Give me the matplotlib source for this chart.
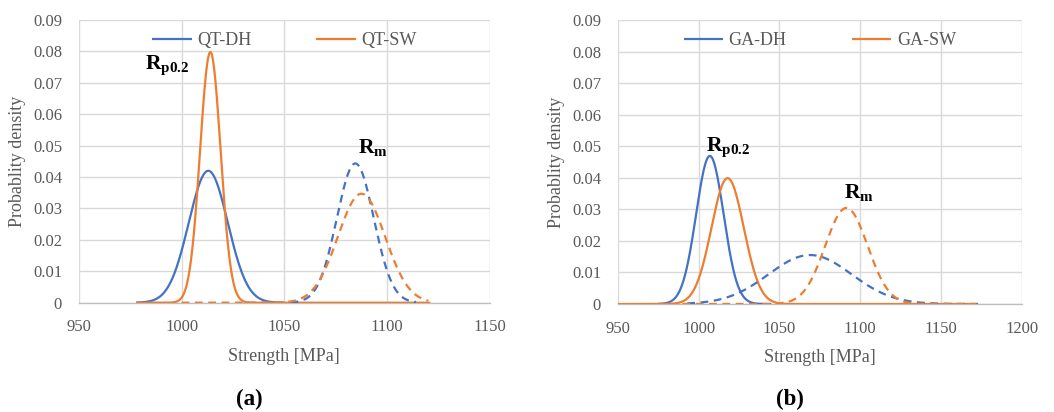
import numpy as np
import matplotlib
matplotlib.use("Agg")
import matplotlib.pyplot as plt

# ---------------- data ----------------
# Panel (a): QT
a_labels = ["QT-DH", "QT-SW"]
a_rp_mean = [1013.0, 1014.0]
a_rp_sd = [9.5, 5.0]
a_rp_xmin = [978.0, 978.0]
a_rp_xmax = [1050.0, 1121.0]
a_rm_mean = [1084.5, 1087.5]
a_rm_sd = [9.0, 11.5]
a_rm_xmin = [1053.0, 1000.0]
a_rm_xmax = [1114.0, 1120.0]

# Panel (b): GA
b_labels = ["GA-DH", "GA-SW"]
b_rp_mean = [1007.0, 1018.0]
b_rp_sd = [8.5, 10.0]
b_rp_xmin = [975.0, 950.0]
b_rp_xmax = [1045.0, 1172.0]
b_rm_mean = [1069.0, 1091.5]
b_rm_sd = [25.7, 13.1]
b_rm_xmin = [993.0, 990.0]
b_rm_xmax = [1174.0, 1172.0]

a_xticks = [950, 1000, 1050, 1100, 1150]
b_xticks = [950, 1000, 1050, 1100, 1150, 1200]
yticks = [0, 0.01, 0.02, 0.03, 0.04, 0.05, 0.06, 0.07, 0.08, 0.09]

colors = ["#4472C4", "#ED7D31"]
grid_c = "#D9D9D9"
tick_c = "#595959"

plt.rcParams["font.family"] = ["Liberation Serif", "DejaVu Serif"]
plt.rcParams["mathtext.fontset"] = "custom"
plt.rcParams["mathtext.rm"] = "Liberation Serif"
plt.rcParams["mathtext.bf"] = "Liberation Serif:bold"
plt.rcParams["mathtext.it"] = "Liberation Serif:italic"


def pdf(x, m, s):
    return np.exp(-0.5 * ((x - m) / s) ** 2) / (s * np.sqrt(2 * np.pi))


fig = plt.figure(figsize=(10.54, 4.12), dpi=100)
axA = fig.add_axes([0.0747, 0.2653, 0.3902, 0.6862])
axB = fig.add_axes([0.5861, 0.2621, 0.3833, 0.6893])

dash = (3.5, 2.5)


def draw(ax, labels, rpm, rps, rpx0, rpx1, rmm, rms, rmx0, rmx1, xticks):
    handles = []
    for i in range(2):
        x = np.linspace(rpx0[i], rpx1[i], 600)
        h, = ax.plot(x, pdf(x, rpm[i], rps[i]), color=colors[i], lw=1.6,
                     label=labels[i], solid_capstyle="butt", zorder=3)
        handles.append(h)
    for i in range(2):
        x = np.linspace(rmx0[i], rmx1[i], 600)
        ax.plot(x, pdf(x, rmm[i], rms[i]), color=colors[i], lw=1.6,
                dashes=dash, zorder=4)
    ax.set_xlim(xticks[0], xticks[-1])
    ax.set_ylim(0, 0.09)
    ax.set_xticks(xticks)
    ax.set_yticks(yticks)
    ax.set_yticklabels(["0" if v == 0 else f"{v:.2f}" for v in yticks])
    ax.grid(True, color=grid_c, lw=1.0, zorder=0)
    ax.set_axisbelow(True)
    for s in ["top", "right", "left"]:
        ax.spines[s].set_visible(False)
    ax.spines["bottom"].set_color("#BFBFBF")
    ax.spines["bottom"].set_linewidth(1.0)
    ax.tick_params(length=0, labelsize=12, colors=tick_c)
    ax.tick_params(axis="x", pad=12)
    ax.tick_params(axis="y", pad=12)
    ax.set_ylabel("Probablity density", fontsize=13, color=tick_c, labelpad=5)
    ax.set_xlabel("Strength [MPa]", fontsize=13, color=tick_c, labelpad=9)
    leg = ax.legend(handles=handles, loc="upper center", ncol=2, frameon=False,
                    fontsize=13, handlelength=2.2, handletextpad=0.3,
                    columnspacing=3.6, bbox_to_anchor=(0.5, 1.015))
    for t in leg.get_texts():
        t.set_color(tick_c)


draw(axA, a_labels, a_rp_mean, a_rp_sd, a_rp_xmin, a_rp_xmax,
     a_rm_mean, a_rm_sd, a_rm_xmin, a_rm_xmax, a_xticks)
draw(axB, b_labels, b_rp_mean, b_rp_sd, b_rp_xmin, b_rp_xmax,
     b_rm_mean, b_rm_sd, b_rm_xmin, b_rm_xmax, b_xticks)

lab_kw = dict(fontsize=15.5, color="black", ha="center", va="center")
axA.text(993, 0.0756, r"$\mathbf{R_{p0.2}}$", **lab_kw)
axA.text(1093, 0.0495, r"$\mathbf{R_{m}}$", **lab_kw)
axB.text(1018, 0.0497, r"$\mathbf{R_{p0.2}}$", **lab_kw)
axB.text(1099, 0.0352, r"$\mathbf{R_{m}}$", **lab_kw)

fig.text(249 / 1054, 1 - 399 / 412, "(a)", fontsize=16.5, fontweight="bold",
         ha="center", va="center")
fig.text(790 / 1054, 1 - 399 / 412, "(b)", fontsize=16.5, fontweight="bold",
         ha="center", va="center")

fig.savefig("out.png", dpi=100)
